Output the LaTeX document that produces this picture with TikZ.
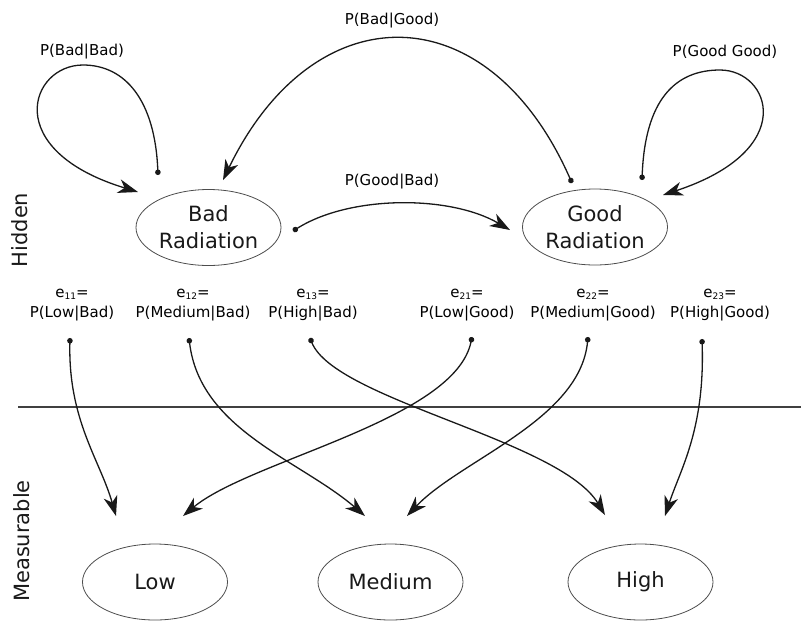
\documentclass[tikz,border=0pt]{standalone}
\usepackage{fontspec}
\setmainfont{DejaVu Sans}
\usetikzlibrary{shapes.geometric,arrows.meta}
\newcommand{\esub}[1]{\raisebox{-2.5pt}{\fontsize{9}{9}\selectfont #1}}
\tikzset{
  ell/.style={ellipse, draw=black!70, line width=0.8pt, minimum width=145pt, minimum height=76pt, inner sep=0pt, align=center, font=\fontsize{21}{27}\selectfont, text=black!90},
  lab/.style={inner sep=0pt, align=center, font=\fontsize{15}{20}\selectfont, text=black},
  side/.style={inner sep=0pt, rotate=90, font=\fontsize{21}{25}\selectfont, text=black!90},
  conn/.style={line width=1.3pt, draw=black!90, {Circle[length=5.5pt]}-{Stealth[length=20pt,width=14pt,inset=6pt]}},
}
\begin{document}
\begin{tikzpicture}[x=1pt,y=-1pt]
\useasboundingbox (0,0) rectangle (801,625);
% separator
\coordinate (sepL) at (18,407);
\coordinate (sepR) at (801,407);
\draw[line width=1.4pt, black!75] (sepL) -- (sepR);
% side labels
\node[side] (hid) at (20,230) {Hidden};
\node[side] (meas) at (22,541) {Measurable};
% state nodes
\node[ell] (bad) at (208.5,227.5) {Bad\\Radiation};
\node[ell] (good) at (595,227) {Good\\Radiation};
\node[ell] (low) at (155,582) {Low};
\node[ell] (med) at (390.5,582) {Medium};
\node[ell] (high) at (640.5,582) {High};
% transition labels
\node[lab] (lbb) at (82,52) {P(Bad|Bad)};
\node[lab] (lgg) at (725,52) {P(Good Good)};
\node[lab] (lbg) at (392,21) {P(Bad|Good)};
\node[lab] (lgb) at (392,182) {P(Good|Bad)};
% emission labels
\node[lab] (l11) at (72,305) {e\esub{11}=\\P(Low|Bad)};
\node[lab] (l12) at (193,305) {e\esub{12}=\\P(Medium|Bad)};
\node[lab] (l13) at (313,305) {e\esub{13}=\\P(High|Bad)};
\node[lab] (l21) at (467,305) {e\esub{21}=\\P(Low|Good)};
\node[lab] (l22) at (593,305) {e\esub{22}=\\P(Medium|Good)};
\node[lab] (l23) at (720,305) {e\esub{23}=\\P(High|Good)};
% connector end points
\coordinate (sbb) at (158,175);
\coordinate (tbb) at (138,192);
\coordinate (sgg) at (642,180);
\coordinate (tgg) at (663,195);
\coordinate (sbg) at (572,183);
\coordinate (tbg) at (223,180);
\coordinate (sgb) at (293,231);
\coordinate (tgb) at (510,230);
\coordinate (s11) at (70,338);
\coordinate (s12) at (189,338);
\coordinate (s13) at (310,338);
\coordinate (s21) at (472,337);
\coordinate (s22) at (588,337);
\coordinate (s23) at (702,339);
\coordinate (tl1) at (116,516);
\coordinate (tl2) at (183,516);
\coordinate (tm1) at (365,516);
\coordinate (tm2) at (407,516);
\coordinate (th1) at (605,515);
\coordinate (th2) at (665,516);
% transitions
\draw[conn] (sbb) .. controls (155,100) and (125,65) .. (83,65) .. controls (30,65) and (0,150) .. (tbb);
\draw[conn] (sgg) .. controls (645,100) and (675,70) .. (720,70) .. controls (770,70) and (800,150) .. (tgg);
\draw[conn] (sbg) .. controls (488,-8) and (314,-8) .. (tbg);
\draw[conn] (sgb) .. controls (350,195) and (450,195) .. (tgb);
% emissions
\draw[conn] (s11) .. controls (68,420) and (100,460) .. (tl1);
\draw[conn] (s12) .. controls (200,430) and (300,460) .. (tm1);
\draw[conn] (s13) .. controls (335,400) and (560,440) .. (th1);
\draw[conn] (s21) .. controls (455,420) and (250,460) .. (tl2);
\draw[conn] (s22) .. controls (580,420) and (460,460) .. (tm2);
\draw[conn] (s23) .. controls (705,430) and (680,470) .. (th2);
\end{tikzpicture}
\end{document}
